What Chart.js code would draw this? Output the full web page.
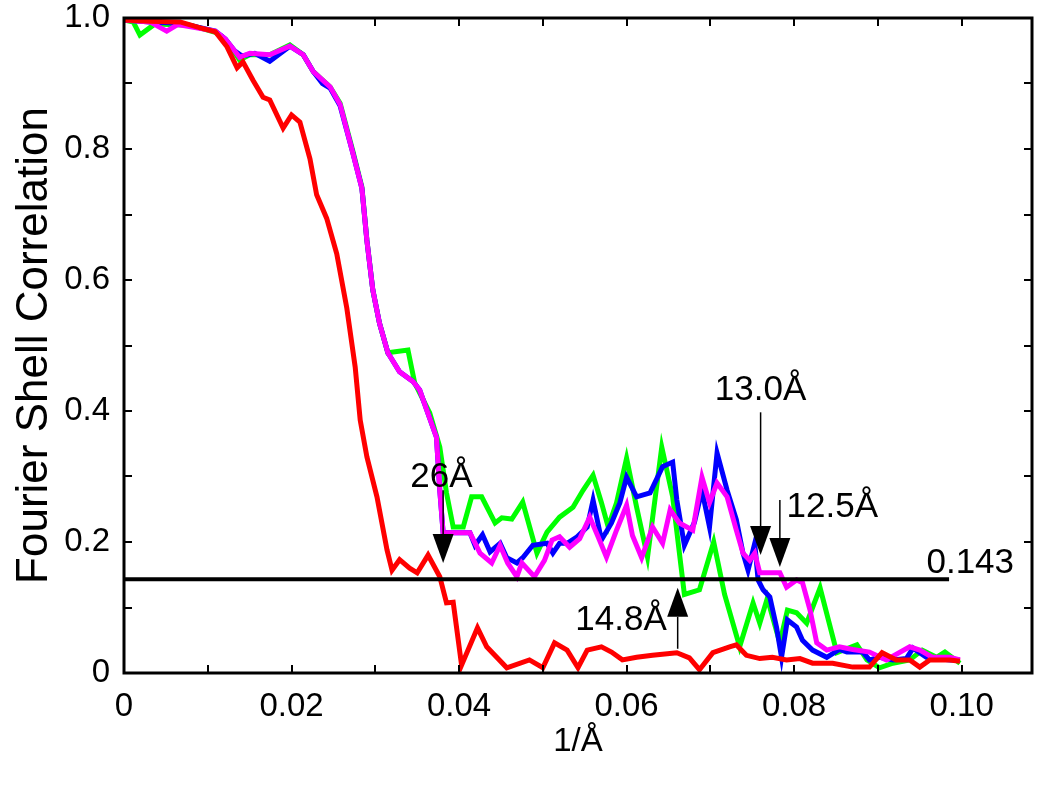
<!DOCTYPE html>
<html>
<head>
<meta charset="utf-8">
<script src="https://cdn.jsdelivr.net/npm/chart.js@4"></script>
<style>
  body { margin: 0; background: #fff; }
  #wrap { width: 1050px; height: 789px; }
</style>
</head>
<body>
<div id="wrap"><canvas id="fscChart" width="1050" height="789"></canvas></div>
<script>
// FSC curves (x in 1/Å, y = correlation)
const redX = [0, 0.0031, 0.0067, 0.0091, 0.0109, 0.0123, 0.0135, 0.0142, 0.0154, 0.0166, 0.0174, 0.0190, 0.0200, 0.0210, 0.0222, 0.0230, 0.0242, 0.0254, 0.0266, 0.0276, 0.0282, 0.0290, 0.0302, 0.0314, 0.0320, 0.0329, 0.0341, 0.0350, 0.0363, 0.0377, 0.0385, 0.0393, 0.0403, 0.0422, 0.0433, 0.0457, 0.0484, 0.0500, 0.0514, 0.0529, 0.0542, 0.0553, 0.0570, 0.0582, 0.0595, 0.0612, 0.0631, 0.0660, 0.0675, 0.0687, 0.0703, 0.0723, 0.0731, 0.0743, 0.0759, 0.0774, 0.0791, 0.0807, 0.0822, 0.0846, 0.0870, 0.0890, 0.0905, 0.0922, 0.0938, 0.0950, 0.0962, 0.0986, 0.0998];
const redY = [0.997, 0.995, 0.994, 0.985, 0.979, 0.956, 0.924, 0.933, 0.905, 0.879, 0.875, 0.832, 0.852, 0.841, 0.785, 0.730, 0.694, 0.640, 0.557, 0.467, 0.386, 0.330, 0.269, 0.188, 0.157, 0.173, 0.160, 0.153, 0.180, 0.147, 0.107, 0.108, 0.012, 0.069, 0.040, 0.008, 0.020, 0.008, 0.046, 0.035, 0.008, 0.035, 0.040, 0.032, 0.020, 0.024, 0.027, 0.031, 0.023, 0.005, 0.031, 0.040, 0.043, 0.027, 0.022, 0.024, 0.020, 0.022, 0.015, 0.015, 0.009, 0.009, 0.031, 0.020, 0.020, 0.009, 0.020, 0.020, 0.018];

const greenX = [0, 0.0011, 0.0019, 0.0037, 0.0079, 0.0109, 0.0117, 0.0130, 0.0138, 0.0150, 0.0174, 0.0198, 0.0214, 0.0226, 0.0246, 0.0258, 0.0273, 0.0284, 0.0290, 0.0297, 0.0305, 0.0315, 0.0339, 0.0347, 0.0365, 0.0377, 0.0385, 0.0393, 0.0405, 0.0415, 0.0427, 0.0443, 0.0451, 0.0463, 0.0476, 0.0493, 0.0505, 0.0520, 0.0536, 0.0548, 0.0560, 0.0570, 0.0578, 0.0588, 0.0600, 0.0612, 0.0625, 0.0642, 0.0655, 0.0669, 0.0687, 0.0704, 0.0717, 0.0735, 0.0751, 0.0759, 0.0768, 0.0783, 0.0792, 0.0803, 0.0815, 0.0831, 0.0851, 0.0875, 0.0887, 0.0902, 0.0918, 0.0938, 0.0953, 0.0970, 0.0980, 0.0998];
const greenY = [0.997, 0.994, 0.974, 0.991, 0.989, 0.978, 0.972, 0.951, 0.936, 0.944, 0.944, 0.959, 0.944, 0.918, 0.895, 0.870, 0.798, 0.742, 0.661, 0.585, 0.534, 0.489, 0.493, 0.443, 0.397, 0.345, 0.275, 0.223, 0.223, 0.269, 0.269, 0.229, 0.237, 0.235, 0.261, 0.183, 0.215, 0.238, 0.253, 0.279, 0.302, 0.260, 0.223, 0.260, 0.328, 0.253, 0.177, 0.345, 0.269, 0.120, 0.127, 0.200, 0.120, 0.040, 0.107, 0.076, 0.114, 0.046, 0.096, 0.092, 0.076, 0.130, 0.031, 0.043, 0.020, 0.008, 0.015, 0.020, 0.035, 0.024, 0.032, 0.015];

const magentaX = [0, 0.0031, 0.0051, 0.0064, 0.0109, 0.0121, 0.0132, 0.0138, 0.0150, 0.0174, 0.0198, 0.0214, 0.0226, 0.0246, 0.0258, 0.0273, 0.0284, 0.0290, 0.0297, 0.0305, 0.0315, 0.0329, 0.0345, 0.0353, 0.0373, 0.0377, 0.0381, 0.0397, 0.0413, 0.0425, 0.0439, 0.0449, 0.0458, 0.0469, 0.0475, 0.0490, 0.0502, 0.0511, 0.0520, 0.0532, 0.0544, 0.0556, 0.0566, 0.0576, 0.0588, 0.0600, 0.0607, 0.0618, 0.0631, 0.0643, 0.0652, 0.0663, 0.0679, 0.0690, 0.0699, 0.0708, 0.0720, 0.0731, 0.0739, 0.0747, 0.0753, 0.0759, 0.0783, 0.0791, 0.0803, 0.0810, 0.0819, 0.0827, 0.0839, 0.0854, 0.0870, 0.0890, 0.0910, 0.0938, 0.0950, 0.0965, 0.0986, 0.0998];
const magentaY = [0.997, 0.994, 0.980, 0.990, 0.980, 0.968, 0.950, 0.940, 0.946, 0.944, 0.957, 0.944, 0.918, 0.895, 0.868, 0.795, 0.740, 0.660, 0.585, 0.534, 0.489, 0.460, 0.445, 0.432, 0.360, 0.279, 0.214, 0.214, 0.214, 0.183, 0.168, 0.195, 0.168, 0.147, 0.168, 0.147, 0.172, 0.203, 0.208, 0.192, 0.205, 0.238, 0.208, 0.177, 0.218, 0.256, 0.210, 0.176, 0.223, 0.198, 0.249, 0.229, 0.218, 0.299, 0.260, 0.290, 0.269, 0.218, 0.183, 0.172, 0.183, 0.153, 0.153, 0.131, 0.142, 0.138, 0.096, 0.046, 0.035, 0.040, 0.036, 0.032, 0.020, 0.040, 0.035, 0.024, 0.024, 0.020];

const blueX = [0, 0.0031, 0.0067, 0.0109, 0.0121, 0.0132, 0.0141, 0.0156, 0.0174, 0.0198, 0.0214, 0.0226, 0.0237, 0.0246, 0.0258, 0.0273, 0.0284, 0.0290, 0.0297, 0.0305, 0.0315, 0.0329, 0.0345, 0.0353, 0.0373, 0.0377, 0.0381, 0.0397, 0.0413, 0.0419, 0.0428, 0.0437, 0.0449, 0.0457, 0.0469, 0.0476, 0.0488, 0.0505, 0.0512, 0.0520, 0.0529, 0.0541, 0.0553, 0.0560, 0.0570, 0.0582, 0.0592, 0.0600, 0.0612, 0.0628, 0.0643, 0.0655, 0.0660, 0.0669, 0.0681, 0.0690, 0.0699, 0.0708, 0.0720, 0.0731, 0.0739, 0.0745, 0.0753, 0.0757, 0.0763, 0.0771, 0.0779, 0.0785, 0.0792, 0.0803, 0.0810, 0.0822, 0.0839, 0.0854, 0.0863, 0.0882, 0.0890, 0.0902, 0.0918, 0.0934, 0.0942, 0.0958, 0.0986, 0.0998];
const blueY = [0.997, 0.994, 0.992, 0.980, 0.968, 0.950, 0.942, 0.946, 0.934, 0.957, 0.944, 0.918, 0.900, 0.893, 0.866, 0.795, 0.740, 0.660, 0.585, 0.534, 0.489, 0.460, 0.445, 0.432, 0.360, 0.279, 0.214, 0.214, 0.214, 0.195, 0.211, 0.185, 0.198, 0.176, 0.168, 0.176, 0.195, 0.198, 0.183, 0.198, 0.198, 0.208, 0.223, 0.264, 0.203, 0.229, 0.260, 0.299, 0.269, 0.275, 0.315, 0.322, 0.264, 0.195, 0.230, 0.279, 0.223, 0.336, 0.279, 0.234, 0.183, 0.157, 0.198, 0.142, 0.127, 0.116, 0.070, 0.024, 0.081, 0.070, 0.050, 0.035, 0.024, 0.036, 0.032, 0.032, 0.020, 0.024, 0.020, 0.022, 0.038, 0.024, 0.020, 0.020];

// 0.143 threshold line
const thresholdX = [0, 0.0985];
const thresholdY = [0.143, 0.143];

// axis ticks
const xTickValues = [0, 0.01, 0.02, 0.03, 0.04, 0.05, 0.06, 0.07, 0.08, 0.09, 0.10];
const yTickValues = [0, 0.1, 0.2, 0.3, 0.4, 0.5, 0.6, 0.7, 0.8, 0.9, 1.0];
const xLabelled = { 0: '0', 2: '0.02', 4: '0.04', 6: '0.06', 8: '0.08', 10: '0.10' };
const yLabelled = { 0: '0', 2: '0.2', 4: '0.4', 6: '0.6', 8: '0.8', 10: '1.0' };

// resolution arrows: label, x, tail y, tip y
const arrowLabels = ['26Å', '13.0Å', '12.5Å', '14.8Å'];
const arrowX = [0.0381, 0.0760, 0.0783, 0.0661];
const arrowTailY = [0.279, 0.398, 0.264, 0.037];
const arrowTipY = [0.168, 0.180, 0.162, 0.130];

const toPoints = (xs, ys) => xs.map((x, i) => ({ x: x, y: ys[i] }));
const FONT = "'Liberation Sans', Arial, sans-serif";

// where each annotation text sits (data coords, baseline)
const textPlacement = [
    { x: 0.0379, y: 0.284, align: 'center' },
    { x: 0.0760, y: 0.417, align: 'center' },
    { x: 0.0791, y: 0.238, align: 'left' },
    { x: 0.0648, y: 0.066, align: 'right' }
];
const thresholdText = { text: '0.143', x: 0.0958, y: 0.153 };

const decorPlugin = {
    id: 'decor',
    afterDatasetsDraw(chart) {
        const ctx = chart.ctx;
        const xs = chart.scales.x, ys = chart.scales.y;
        const a = chart.chartArea;
        ctx.save();
        ctx.strokeStyle = '#000';
        ctx.fillStyle = '#000';

        // inward ticks on all four sides
        ctx.lineWidth = 2;
        const tl = 8;
        xTickValues.forEach(v => {
            const px = Math.round(xs.getPixelForValue(v));
            ctx.beginPath();
            ctx.moveTo(px, a.bottom); ctx.lineTo(px, a.bottom - tl);
            ctx.moveTo(px, a.top); ctx.lineTo(px, a.top + tl);
            ctx.stroke();
        });
        yTickValues.forEach(v => {
            const py = Math.round(ys.getPixelForValue(v));
            ctx.beginPath();
            ctx.moveTo(a.left, py); ctx.lineTo(a.left + tl, py);
            ctx.moveTo(a.right, py); ctx.lineTo(a.right - tl, py);
            ctx.stroke();
        });

        // frame
        ctx.lineWidth = 3;
        ctx.strokeRect(a.left, a.top, a.right - a.left, a.bottom - a.top);

        // arrows
        const headW = 21, headH = 29;
        arrowX.forEach((v, i) => {
            const px = xs.getPixelForValue(v);
            const tail = ys.getPixelForValue(arrowTailY[i]);
            const tip = ys.getPixelForValue(arrowTipY[i]);
            const dir = tip > tail ? 1 : -1;
            const base = tip - dir * headH;
            ctx.lineWidth = 1.5;
            ctx.beginPath();
            ctx.moveTo(px, tail); ctx.lineTo(px, base);
            ctx.stroke();
            ctx.beginPath();
            ctx.moveTo(px - headW / 2, base);
            ctx.lineTo(px + headW / 2, base);
            ctx.lineTo(px, tip);
            ctx.closePath();
            ctx.fill();
        });

        // texts
        ctx.font = '35px ' + FONT;
        ctx.textBaseline = 'alphabetic';
        arrowLabels.forEach((t, i) => {
            const p = textPlacement[i];
            ctx.textAlign = p.align;
            ctx.fillText(t, xs.getPixelForValue(p.x), ys.getPixelForValue(p.y));
        });
        ctx.textAlign = 'left';
        ctx.fillText(thresholdText.text, xs.getPixelForValue(thresholdText.x), ys.getPixelForValue(thresholdText.y));
        ctx.restore();
    }
};

const lineStyle = (color, order) => ({
    borderColor: color,
    backgroundColor: color,
    borderWidth: 5,
    pointRadius: 0,
    tension: 0,
    fill: false,
    order: order
});

new Chart(document.getElementById('fscChart'), {
    type: 'line',
    data: {
        datasets: [
            { label: 'threshold', data: toPoints(thresholdX, thresholdY), ...lineStyle('#000000', 0), borderWidth: 4 },
            { label: 'red', data: toPoints(redX, redY), ...lineStyle('#ff0000', 1) },
            { label: 'magenta', data: toPoints(magentaX, magentaY), ...lineStyle('#ff00ff', 2) },
            { label: 'blue', data: toPoints(blueX, blueY), ...lineStyle('#0000ff', 3) },
            { label: 'green', data: toPoints(greenX, greenY), ...lineStyle('#00ff00', 4) }
        ]
    },
    options: {
        responsive: false,
        animation: false,
        devicePixelRatio: 1,
        layout: { padding: { top: 18, right: 18, left: 0, bottom: 0 } },
        plugins: { legend: { display: false }, tooltip: { enabled: false } },
        scales: {
            x: {
                type: 'linear',
                min: 0,
                max: 0.1084,
                afterFit: s => { s.height = 116; },
                grid: { display: false, drawTicks: false },
                border: { display: false },
                ticks: {
                    stepSize: 0.01,
                    includeBounds: false,
                    autoSkip: false,
                    maxRotation: 0,
                    padding: 14,
                    color: '#000',
                    font: { family: FONT, size: 33 },
                    callback: v => xLabelled[Math.round(v * 100)] || ''
                },
                title: {
                    display: true,
                    text: '1/Å',
                    color: '#000',
                    font: { family: FONT, size: 33 },
                    padding: { top: 0, bottom: 27 }
                }
            },
            y: {
                type: 'linear',
                min: 0,
                max: 1,
                afterFit: s => { s.width = 124; s.paddingTop = 0; s.paddingBottom = 0; },
                grid: { display: false, drawTicks: false },
                border: { display: false },
                ticks: {
                    stepSize: 0.1,
                    autoSkip: false,
                    padding: 14,
                    color: '#000',
                    font: { family: FONT, size: 33 },
                    callback: v => yLabelled[Math.round(v * 10)] || ''
                },
                title: {
                    display: true,
                    text: 'Fourier Shell Correlation',
                    color: '#000',
                    font: { family: FONT, size: 44 },
                    padding: { top: 8, bottom: 0 }
                }
            }
        }
    },
    plugins: [decorPlugin]
});
</script>
</body>
</html>
